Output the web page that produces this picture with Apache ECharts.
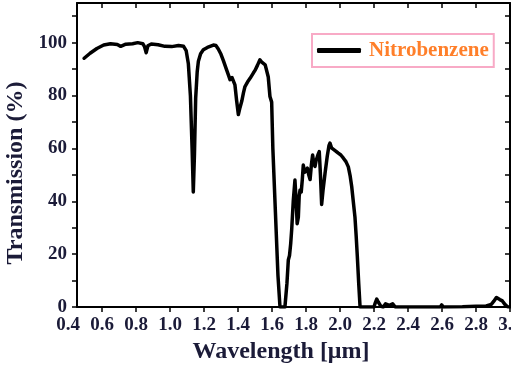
<!DOCTYPE html>
<html>
<head>
<meta charset="utf-8">
<script src="https://cdn.jsdelivr.net/npm/echarts@6/dist/echarts.min.js"></script>
<style>html,body{margin:0;padding:0;background:#fff;}#c{width:511px;height:370px;}</style>
</head>
<body>
<div id="c"></div>
<script>
var wavelength = [0.495,0.53,0.57,0.61,0.65,0.69,0.71,0.74,0.78,0.81,0.84,0.85,0.86,0.87,0.89,0.93,0.97,1.01,1.05,1.08,1.095,1.108,1.12,1.13,1.137,1.144,1.151,1.16,1.167,1.18,1.196,1.22,1.255,1.27,1.284,1.3,1.314,1.333,1.345,1.353,1.365,1.372,1.382,1.392,1.402,1.412,1.422,1.432,1.441,1.46,1.471,1.49,1.5,1.515,1.529,1.54,1.549,1.56,1.569,1.578,1.588,1.598,1.605,1.62,1.635,1.647,1.66,1.676,1.688,1.696,1.703,1.71,1.716,1.725,1.735,1.742,1.748,1.755,1.76,1.765,1.772,1.778,1.784,1.792,1.8,1.808,1.816,1.824,1.832,1.839,1.846,1.853,1.86,1.87,1.878,1.885,1.892,1.9,1.912,1.925,1.935,1.941,1.95,1.961,1.975,1.99,2.005,2.02,2.035,2.049,2.06,2.069,2.078,2.088,2.095,2.102,2.11,2.118,2.2,2.207,2.216,2.226,2.24,2.255,2.268,2.278,2.29,2.3,2.31,2.325,2.59,2.598,2.607,2.72,2.8,2.86,2.89,2.905,2.92,2.94,2.955,2.97,2.985,3.0];
var transmission = [94.1,96,97.8,99.1,99.6,99.3,98.6,99.4,99.6,100,99.6,98.5,96.2,98.8,99.5,99.2,98.6,98.5,98.9,98.6,97,92,80,60,43.5,58,79,89,93,95.8,97.3,98.2,99.1,98.9,97.6,95.6,93.2,89.7,87.5,86,86.8,86.3,84,78,72.8,75.5,77.8,81,83.4,85.5,86.5,88.5,89.5,91.5,93.5,92.6,92.4,91.6,91.2,87,79.6,77.5,60,36,12,0,0,0,9,17.8,19.5,24,29.5,40,48,40,31.5,34,42,44.3,43.5,48,53.7,51,51.5,52.5,50,48.2,54,57.5,54,53.2,55.5,57.5,58.8,50,38.8,44,50.6,57,61,62,60.2,59.5,59,58.2,57.5,56.3,55,53,49.5,45.5,40,34,27,19,9,0,0,1.5,3,1.8,0.3,0,1.2,1.5,0.6,1.3,1.2,0,0,0.8,0,0.1,0.3,0.4,1,2.2,3.6,2.8,2.3,1,0.1,0];
var xTickLabels = [0.4,0.6,0.8,1.0,1.2,1.4,1.6,1.8,2.0,2.2,2.4,2.6,2.8,3.0];
var yTickLabels = [0,20,40,60,80,100];
var yTicks = [0,10,20,30,40,50,60,70,80,90,100,110];
var seriesName = 'Nitrobenzene';

var FONT = 'Liberation Serif';
var TXT = '#1b1b38';
var G0L = 68, G1L = 77, GR = 1, W = 511;
var xMin0 = 0.4, xMax = 3.0;
var xMin1 = xMin0 + (G1L - G0L) * (xMax - xMin0) / (W - GR - G0L);

var pts = wavelength.map(function (w, i) { return [w, transmission[i]]; });

var chart = echarts.init(document.getElementById('c'), null, {renderer: 'canvas'});
chart.setOption({
  animation: false,
  backgroundColor: '#fff',
  grid: [
    {left: G0L, right: GR, top: 3, bottom: 63, containLabel: false, outerBoundsMode: 'none'},
    {left: G1L, right: GR, top: 3, bottom: 63, containLabel: false, outerBoundsMode: 'none'}
  ],
  legend: {
    data: [seriesName],
    left: 312, top: 34,
    padding: [6, 5, 6, 5],
    borderColor: '#f8aac6', borderWidth: 2,
    icon: 'roundRect',
    itemWidth: 44, itemHeight: 5,
    itemStyle: {color: '#000'},
    textStyle: {fontFamily: FONT, fontWeight: 'bold', fontSize: 21, color: '#ff7f2a', padding: [0,0,0,3]}
  },
  xAxis: [
    {gridIndex: 0, type: 'value', position: 'bottom', min: xMin0, max: xMax, interval: 0.2,
     axisLine: {show: false}, splitLine: {show: false},
     axisTick: {show: true, inside: false, length: 5, lineStyle: {color: '#000', width: 1.5}, customValues: xTickLabels.slice(1)},
     axisLabel: {customValues: xTickLabels, formatter: function (v) { return v.toFixed(1); },
       fontFamily: FONT, fontWeight: 'bold', fontSize: 19, color: TXT, margin: 9},
     name: 'Wavelength [\u03bcm]', nameLocation: 'middle', nameGap: 32,
     nameTextStyle: {fontFamily: FONT, fontWeight: 'bold', fontSize: 24, color: TXT, padding: [0, 16, 0, 0]}},
    {gridIndex: 0, type: 'value', position: 'top', min: xMin0, max: xMax, interval: 0.2,
     axisLine: {show: false}, splitLine: {show: false}, axisLabel: {show: false},
     axisTick: {show: true, inside: true, length: 5, lineStyle: {color: '#000', width: 1.5}, customValues: xTickLabels.slice(1, -1)}},
    {gridIndex: 1, type: 'value', position: 'bottom', min: xMin1, max: xMax,
     axisLine: {show: true, onZero: false, lineStyle: {color: '#000', width: 2}},
     axisTick: {show: false}, axisLabel: {show: false}, splitLine: {show: false}},
    {gridIndex: 1, type: 'value', position: 'top', min: xMin1, max: xMax,
     axisLine: {show: true, onZero: false, lineStyle: {color: '#000', width: 2}},
     axisTick: {show: false}, axisLabel: {show: false}, splitLine: {show: false}}
  ],
  yAxis: [
    {gridIndex: 0, type: 'value', min: 0, max: 115, show: false},
    {gridIndex: 1, type: 'value', position: 'left', min: 0, max: 115, interval: 10,
     axisLine: {show: true, onZero: false, lineStyle: {color: '#000', width: 2}},
     axisTick: {show: true, inside: false, length: 5, lineStyle: {color: '#000', width: 1.5}, customValues: yTicks},
     axisLabel: {customValues: yTickLabels, fontFamily: FONT, fontWeight: 'bold', fontSize: 19, color: TXT, margin: 10},
     splitLine: {show: false},
     name: 'Transmission (%)', nameLocation: 'middle', nameRotate: 90, nameGap: 45,
     nameTextStyle: {fontFamily: FONT, fontWeight: 'bold', fontSize: 24, color: TXT, padding: [0, 36, 0, 0]}},
    {gridIndex: 1, type: 'value', position: 'right', min: 0, max: 115, interval: 10,
     axisLine: {show: true, onZero: false, lineStyle: {color: '#000', width: 2}},
     axisTick: {show: true, inside: true, length: 5, lineStyle: {color: '#000', width: 1.5}, customValues: yTicks},
     axisLabel: {show: false}, splitLine: {show: false}}
  ],
  series: [{
    name: seriesName, type: 'line', xAxisIndex: 2, yAxisIndex: 1,
    data: pts, showSymbol: false, symbol: 'none',
    lineStyle: {color: '#000', width: 3.5, join: 'round', cap: 'round'},
    itemStyle: {color: '#000'}
  }]
});
</script>
</body>
</html>
